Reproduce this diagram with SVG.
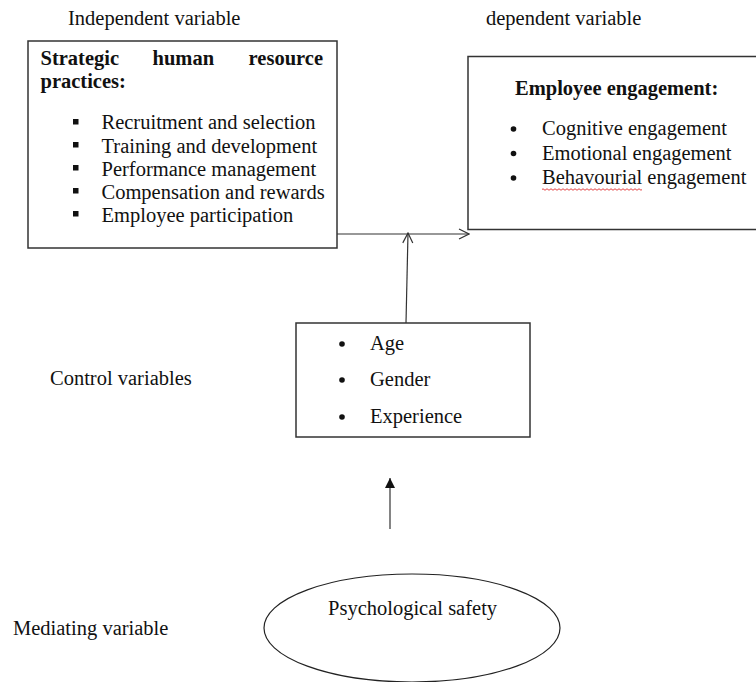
<svg xmlns="http://www.w3.org/2000/svg" width="756" height="682" viewBox="0 0 756 682">
<defs>
<style>
text{font-family:"Liberation Serif","Times New Roman",serif;font-size:20.5px;fill:#111}
.b{font-weight:bold}
.box{fill:#fff;stroke:#333;stroke-width:1.5}
.ln{fill:none;stroke:#333;stroke-width:1.2}
</style>
<marker id="open" viewBox="0 0 12 12" refX="11" refY="6" markerWidth="12" markerHeight="12" markerUnits="userSpaceOnUse" orient="auto">
<path d="M1,1 L11,6 L1,11" fill="none" stroke="#333" stroke-width="1.2"/>
</marker>
<marker id="solid" viewBox="0 0 10 12" refX="10" refY="6" markerWidth="10" markerHeight="12" markerUnits="userSpaceOnUse" orient="auto">
<path d="M0,1 L10,6 L0,11 Z" fill="#111"/>
</marker>
</defs>
<rect width="756" height="682" fill="#fff"/>

<text x="68" y="25">Independent variable</text>
<text x="486" y="25">dependent variable</text>
<text x="50" y="385">Control variables</text>
<text x="13" y="635">Mediating variable</text>

<g id="connectors">
<line class="ln" x1="337" y1="234" x2="469" y2="234" marker-end="url(#open)"/>
<line class="ln" x1="406" y1="323" x2="408" y2="233" marker-end="url(#open)"/>
<line class="ln" x1="390" y1="529" x2="390" y2="478" marker-end="url(#solid)"/>
</g>

<g id="shrp">
<rect class="box" x="28" y="41" width="309" height="207"/>
<text class="b" x="40.5" y="65">Strategic</text>
<text class="b" x="152.5" y="65">human</text>
<text class="b" x="323" y="65" text-anchor="end">resource</text>
<text class="b" x="40.5" y="88">practices:</text>
<g fill="#111">
<rect x="73" y="119" width="5.5" height="5.5"/>
<rect x="73" y="142" width="5.5" height="5.5"/>
<rect x="73" y="165" width="5.5" height="5.5"/>
<rect x="73" y="188" width="5.5" height="5.5"/>
<rect x="73" y="211" width="5.5" height="5.5"/>
</g>
<text x="101.5" y="129">Recruitment and selection</text>
<text x="101.5" y="152.5">Training and development</text>
<text x="101.5" y="175.5">Performance management</text>
<text x="101.5" y="198.5">Compensation and rewards</text>
<text x="101.5" y="221.5">Employee participation</text>
</g>

<g id="engagement">
<rect class="box" x="468" y="56.5" width="300" height="173"/>
<text class="b" x="515" y="95">Employee engagement:</text>
<g fill="#111">
<circle cx="513.5" cy="129" r="2.8"/>
<circle cx="513.5" cy="153.5" r="2.8"/>
<circle cx="513.5" cy="178" r="2.8"/>
</g>
<text x="542" y="135">Cognitive engagement</text>
<text x="542" y="159.5">Emotional engagement</text>
<text x="542" y="184">Behavourial engagement</text>
<path d="M542,189.5 q1,-1.5 2,0 t2,0 t2,0 t2,0 t2,0 t2,0 t2,0 t2,0 t2,0 t2,0 t2,0 t2,0 t2,0 t2,0 t2,0 t2,0 t2,0 t2,0 t2,0 t2,0 t2,0 t2,0 t2,0 t2,0 t2,0 t2,0 t2,0 t2,0 t2,0 t2,0 t2,0 t2,0 t2,0 t2,0 t2,0 t2,0 t2,0 t2,0 t2,0 t2,0 t2,0 t2,0 t2,0 t2,0 t2,0 t2,0 t2,0 t2,0 t2,0 t2,0" fill="none" stroke="#e03030" stroke-width="0.9"/>
</g>

<g id="controls">
<rect class="box" x="296" y="323" width="234" height="114"/>
<g fill="#111">
<circle cx="342" cy="344" r="2.8"/>
<circle cx="342" cy="380" r="2.8"/>
<circle cx="342" cy="417" r="2.8"/>
</g>
<text x="370" y="350">Age</text>
<text x="370" y="386">Gender</text>
<text x="370" y="423">Experience</text>
</g>

<g id="psych">
<ellipse cx="412" cy="628" rx="148" ry="54" fill="#fff" stroke="#222" stroke-width="1.2"/>
<text x="328" y="615">Psychological safety</text>
</g>
</svg>
